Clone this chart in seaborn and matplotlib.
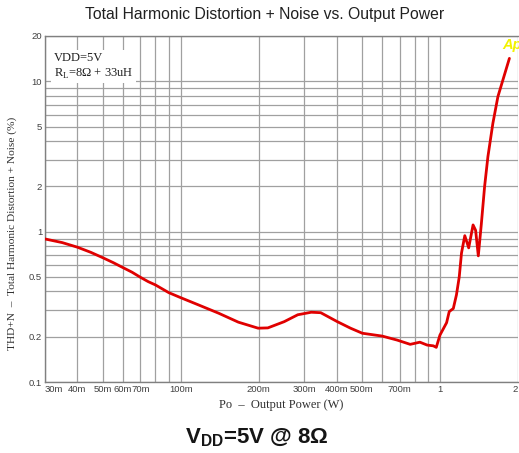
import numpy as np
import pandas as pd
import matplotlib
matplotlib.use("Agg")
import matplotlib.pyplot as plt
import seaborn as sns
from matplotlib.ticker import LogLocator, FixedLocator, FixedFormatter, NullFormatter

# данные (Po в Вт, THD+N в %)
power = [0.03, 0.035, 0.04, 0.045, 0.05, 0.055, 0.06, 0.065, 0.07, 0.075, 0.08,
         0.09, 0.1, 0.117, 0.14, 0.167,
         0.199, 0.217, 0.251, 0.283, 0.319, 0.347, 0.402, 0.452, 0.502, 0.599,
         0.684, 0.768, 0.837, 0.893, 0.943, 0.968, 1.0, 1.061, 1.086, 1.126,
         1.158, 1.187, 1.211, 1.247, 1.291, 1.342, 1.373, 1.406, 1.444, 1.487,
         1.531, 1.6, 1.673, 1.749, 1.853]
thdn = [0.894, 0.845, 0.788, 0.729, 0.672, 0.622, 0.576, 0.537, 0.497, 0.465, 0.442,
        0.393, 0.364, 0.326, 0.287, 0.25,
        0.228, 0.229, 0.252, 0.28, 0.291, 0.289, 0.252, 0.228, 0.211, 0.202,
        0.19, 0.178, 0.184, 0.176, 0.174, 0.17, 0.205, 0.248, 0.294, 0.308,
        0.38, 0.5, 0.72, 0.94, 0.78, 1.108, 1.02, 0.69, 1.12, 2.0,
        3.15, 5.25, 7.9, 10.2, 14.2]

x_ticks = [0.03, 0.04, 0.05, 0.06, 0.07, 0.1, 0.2, 0.3, 0.4, 0.5, 0.7, 1, 2]
x_labels = ["30m", "40m", "50m", "60m", "70m", "100m", "200m", "300m", "400m",
            "500m", "700m", "1", "2"]
y_ticks = [0.1, 0.2, 0.5, 1, 2, 5, 10, 20]
y_labels = ["0.1", "0.2", "0.5", "1", "2", "5", "10", "20"]

df = pd.DataFrame({"Po": power, "THDN": thdn})

sns.set_theme(style="white")
plt.rcParams["font.family"] = ["Liberation Sans", "DejaVu Sans"]
plt.rcParams["mathtext.fontset"] = "custom"
plt.rcParams["mathtext.rm"] = "Liberation Serif"
plt.rcParams["mathtext.bf"] = "Liberation Sans:bold"

W, H = 519, 453
fig = plt.figure(figsize=(W / 100, H / 100), dpi=100)
ax = fig.add_axes([45 / W, 1 - 382 / H, 473 / W, 346 / H])

sns.lineplot(data=df, x="Po", y="THDN", ax=ax, color="#e00000", lw=2.0,
             sort=False, estimator=None, zorder=3)

ax.set_xscale("log")
ax.set_yscale("log")
ax.set_xlim(0.03, 2)
ax.set_ylim(0.1, 20)

# сетка на всех десятичных делениях
ax.xaxis.set_minor_locator(LogLocator(base=10, subs=np.arange(1, 10)))
ax.yaxis.set_minor_locator(LogLocator(base=10, subs=np.arange(1, 10)))
ax.grid(True, which="both", color="#a0a0a0", lw=0.9)

ax.xaxis.set_major_locator(FixedLocator(x_ticks))
ax.xaxis.set_major_formatter(FixedFormatter(x_labels))
ax.xaxis.set_minor_formatter(NullFormatter())
ax.yaxis.set_major_locator(FixedLocator(y_ticks))
ax.yaxis.set_major_formatter(FixedFormatter(y_labels))
ax.yaxis.set_minor_formatter(NullFormatter())

ax.tick_params(which="both", length=0, pad=2, labelsize=6.8, colors="#404040")
ax.get_xticklabels()[0].set_ha("left")
ax.get_xticklabels()[-1].set_ha("right")

for side in ["left", "bottom", "top"]:
    ax.spines[side].set_color("#808080")
    ax.spines[side].set_linewidth(1)
ax.spines["right"].set_visible(False)

ax.set_xlabel("Po  \u2013  Output Power (W)", family="Liberation Serif",
              fontsize=9, color="#303030", labelpad=4)
ax.set_ylabel("THD+N  \u2013  Total Harmonic Distortion + Noise (%)",
              family="Liberation Serif", fontsize=8.2, color="#303030")
ax.yaxis.set_label_coords(-0.059, 0.43)

# подпись условий в левом верхнем углу (белый фон закрывает сетку)
ax.text(0.018, 0.955, "VDD=5V\nR$_{\\rm L}$=8\u03a9 + 33uH", transform=ax.transAxes,
        ha="left", va="top", family="Liberation Serif", fontsize=9,
        color="#202020", linespacing=1.3, zorder=4,
        bbox=dict(facecolor="white", edgecolor="none", pad=2))

fig.text(502 / W, 1 - 45 / H, "Ap", color="#f2f200", fontsize=10.5,
         fontweight="bold", fontstyle="italic", ha="left", va="center")

fig.suptitle("Total Harmonic Distortion + Noise vs. Output Power", x=265 / W,
             y=1 - 14 / H, va="center", fontsize=11.3, color="#202020")

fig.text(257 / W, 1 - 438 / H, "$\\mathbf{V_{DD}}$=5V @ 8\u03a9", ha="center",
         va="center", fontsize=16, fontweight="bold", color="#151515")

plt.savefig("out.png", dpi=100)
